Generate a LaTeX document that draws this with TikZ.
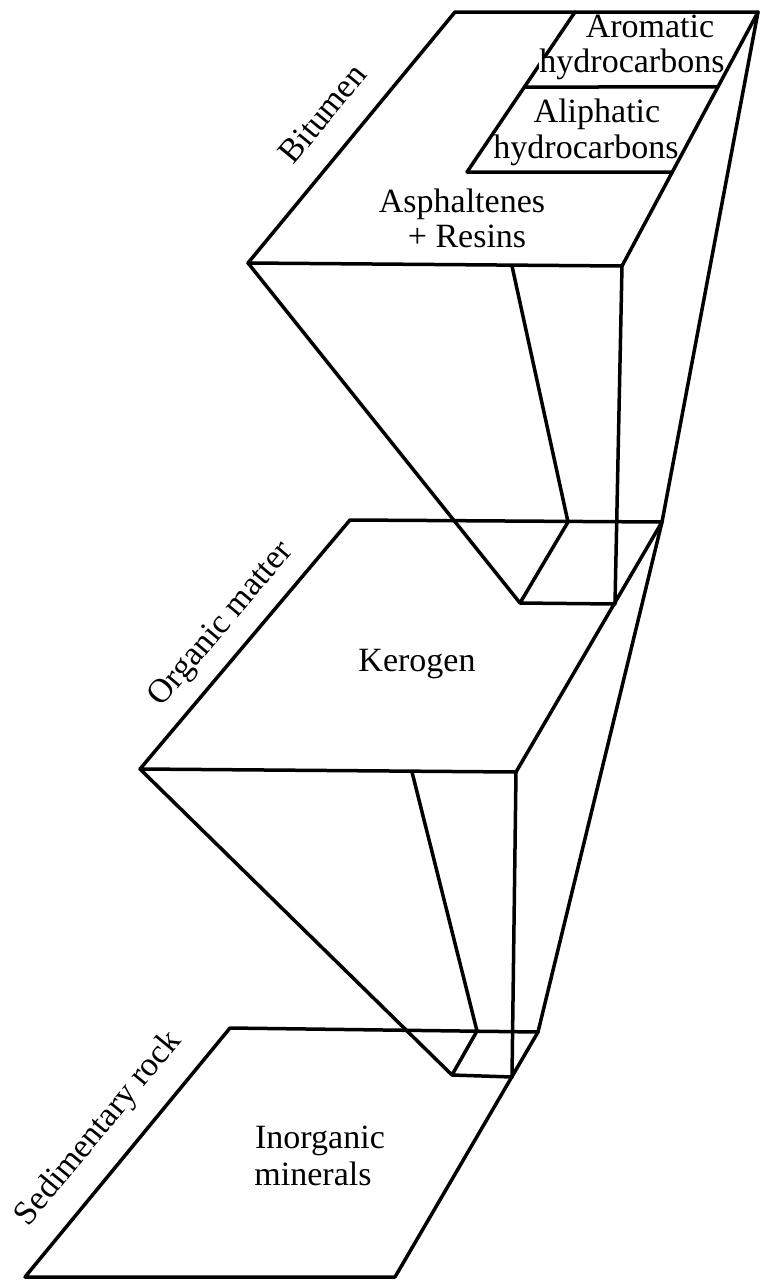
\documentclass[tikz,border=0pt]{standalone}
\usepackage{fontspec}
\setmainfont{Liberation Serif}
\usetikzlibrary{calc}
\begin{document}
\begin{tikzpicture}[x=0.5pt,y=-0.5pt, every node/.style={font=\fontsize{17}{17.75}\selectfont,inner sep=0pt,text height=0.7em,text depth=0.25em}, t/.style={anchor=base}, side/.style={sloped,pos=.5,above=#1}, ln/.style={line width=1.75pt,line join=round,line cap=round}]
\useasboundingbox (0,0) rectangle (762,1280);
\coordinate (btl) at (455,12); \coordinate (btr) at (758,12); \coordinate (bbr) at (622,266); \coordinate (bbl) at (248,263); \coordinate (bmid) at (512,266);
\coordinate (dtop) at (575,12); \coordinate (dbot) at (467,172);
\coordinate (ktl) at (350,520); \coordinate (ktr) at (662,522); \coordinate (kbr) at (516,772); \coordinate (kbl) at (140,769); \coordinate (kmid) at (412,772);
\coordinate (stl) at (568,522); \coordinate (sbr) at (615,604); \coordinate (sbl) at (520,603);
\coordinate (rtl) at (230,1028); \coordinate (rtr) at (538,1032); \coordinate (rbr) at (395,1277); \coordinate (rbl) at (25,1277);
\coordinate (qtl) at (477,1031); \coordinate (qbr) at (512,1077); \coordinate (qbl) at (452,1075);
\draw[ln] (dtop) -- (dbot);
\node[t,fill=white] (hc1) at (632,72) {hydrocarbons};
\draw[ln] (bbl) -- node[side=10pt] (bit) {Bitumen} (btl) -- (btr) -- (bbr) -- cycle;
\draw[ln] ($(dtop)!.469!(dbot)$) -- ($(btr)!.295!(bbr)$) (dbot) -- ($(btr)!.63!(bbr)$);
\draw[ln] (kbl) -- node[side=8pt] (org) {Organic matter} (ktl) -- (ktr) -- (kbr) -- cycle;
\draw[ln] (rbl) -- node[side=11pt] (sed) {Sedimentary rock} (rtl) -- (rtr) -- (rbr) -- cycle;
\draw[ln] (bbl) -- (sbl) -- (stl) -- (bmid) (bbr) -- (sbr) -- (sbl) (btr) -- (ktr);
\draw[ln] (kbl) -- (qbl) -- (qtl) -- (kmid) (kbr) -- (qbr) -- (qbl) (ktr) -- (rtr);
\node[t] (aro) at (650,37) {Aromatic};
\node[t] (ali) at (597,122) {Aliphatic}; \node[t] (hc2) at (586,158) {hydrocarbons};
\node[t] (asp) at (462,212) {Asphaltenes}; \node[t] (res) at (467,247) {+ Resins};
\node[t] (ker) at (417,671) {Kerogen};
\node[t] (ino) at (320,1148) {Inorganic}; \node[t] (min) at (313,1185) {minerals};
\end{tikzpicture}
\end{document}
